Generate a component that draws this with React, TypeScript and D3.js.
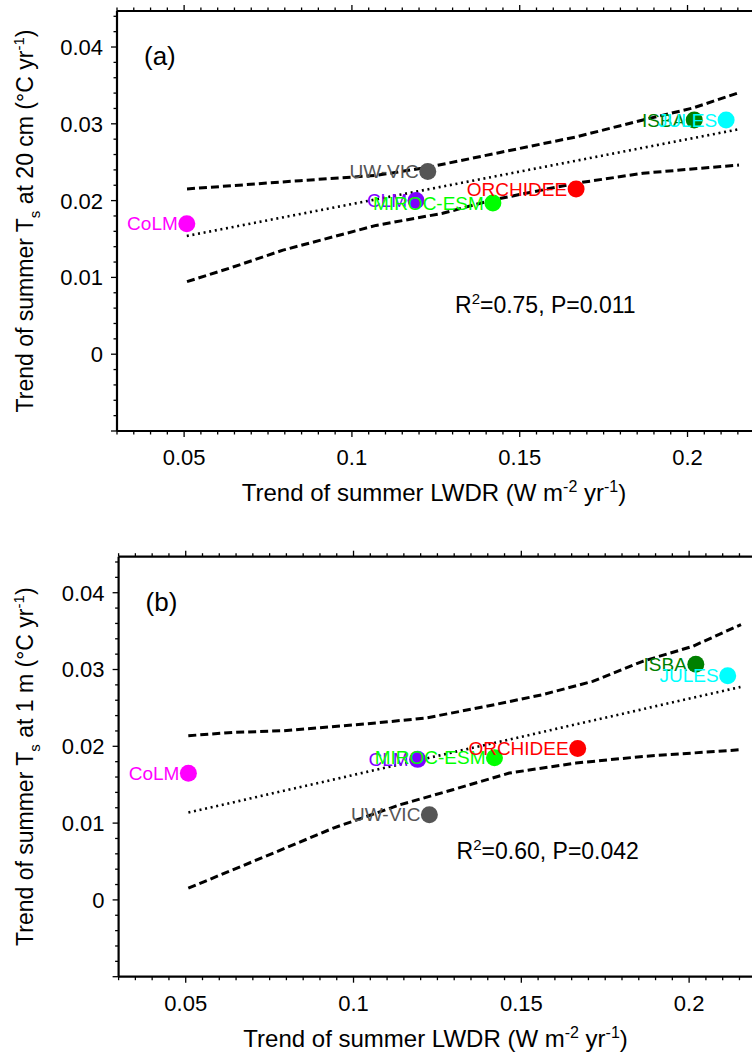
import React from "react";
import * as d3 from "d3";

// ---- data ----
const models = ["CoLM", "CLM", "UW-VIC", "MIROC-ESM", "ORCHIDEE", "ISBA", "JULES"];
const modelColors = ["#ff00ff", "#7f00ff", "#555555", "#00ff00", "#ff0000", "#008000", "#00ffff"];
const lwdrTrend = [0.0508, 0.1191, 0.1226, 0.142, 0.1668, 0.202, 0.2115];
const ts20cmTrend = [0.017, 0.02, 0.0238, 0.0197, 0.0215, 0.0305, 0.0305];
const ts1mTrend = [0.0165, 0.0183, 0.0111, 0.0185, 0.0197, 0.0307, 0.0292];

// fitted line end points
const fitX = [0.0508, 0.2153];
const fit20cmY = [0.0154, 0.02929];
const fit1mY = [0.01138, 0.02773];

// confidence band curves, panel (a)
const upper20cmX = [0.05086, 0.06457, 0.08453, 0.10717, 0.12327, 0.14412, 0.16677, 0.18673, 0.20163, 0.21534];
const upper20cmY = [0.02152, 0.02195, 0.0226, 0.02328, 0.02439, 0.02627, 0.02829, 0.0305, 0.03206, 0.03406];
const lower20cmX = [0.05086, 0.06457, 0.07946, 0.10717, 0.12705, 0.14195, 0.16677, 0.18673, 0.21534];
const lower20cmY = [0.00945, 0.01135, 0.01355, 0.01677, 0.01835, 0.02009, 0.02226, 0.02356, 0.02464];
// confidence band curves, panel (b)
const upper1mX = [0.05077, 0.06418, 0.07908, 0.1067, 0.1216, 0.13948, 0.15637, 0.17127, 0.18617, 0.20107, 0.21546];
const upper1mY = [0.02138, 0.02181, 0.02203, 0.02304, 0.02369, 0.0252, 0.02673, 0.02846, 0.03107, 0.03302, 0.03585];
const lower1mX = [0.05077, 0.0761, 0.09398, 0.11385, 0.12955, 0.14642, 0.1663, 0.18617, 0.21546];
const lower1mY = [0.00153, 0.00609, 0.00935, 0.01239, 0.01434, 0.01652, 0.01782, 0.01868, 0.01956];

const xMajorTicks = [0.05, 0.1, 0.15, 0.2];
const xTickLabels = ["0.05", "0.1", "0.15", "0.2"];
const yMajorTicks = [0, 0.01, 0.02, 0.03, 0.04];
const yTickLabels = ["0", "0.01", "0.02", "0.03", "0.04"];
const xDomain = [0.03, 0.22];
const yDomain = [-0.01, 0.04469];

const FONT = "'Liberation Sans', Arial, Helvetica, sans-serif";

type PanelProps = {
  left: number;
  top: number;
  tag: string;
  ys: number[];
  fitY: number[];
  upX: number[];
  upY: number[];
  loX: number[];
  loY: number[];
  stat: string[];
  depth: string;
};

function Panel(p: PanelProps) {
  const W = 0.19 * 3356;
  const H = 420;
  const x = d3.scaleLinear().domain(xDomain).range([p.left, p.left + W]);
  const y = d3.scaleLinear().domain(yDomain).range([p.top + H, p.top]);
  const bottom = p.top + H;
  const line = d3
    .line<[number, number]>()
    .x((d) => x(d[0]))
    .y((d) => y(d[1]));
  const upper = line(p.upX.map((v, i) => [v, p.upY[i]] as [number, number])) || "";
  const lower = line(p.loX.map((v, i) => [v, p.loY[i]] as [number, number])) || "";
  const fit = line(fitX.map((v, i) => [v, p.fitY[i]] as [number, number])) || "";

  const xMinor = d3.range(6, 45).map((k) => k * 0.005);
  const yMinor = d3.range(-5, 23).map((k) => k * 0.002);
  const isMajorX = (v: number) => xMajorTicks.some((m) => Math.abs(m - v) < 1e-9);
  const isMajorY = (v: number) => [-0.01, ...yMajorTicks].some((m) => Math.abs(m - v) < 1e-9);
  const xRight = Math.min(p.left + W, 760);
  const cx = p.left + 317;
  const cy = p.top + H / 2;

  return (
    <g>
      {/* axes lines */}
      <line x1={p.left} x2={xRight} y1={p.top} y2={p.top} stroke="#000" strokeWidth={2.2} />
      <line x1={p.left} x2={xRight} y1={bottom} y2={bottom} stroke="#000" strokeWidth={2.2} />
      <line x1={p.left} x2={p.left} y1={p.top} y2={bottom} stroke="#000" strokeWidth={2.2} />
      {xMinor.map((v, i) => {
        const L = isMajorX(v) ? 6 : 3.5;
        return (
          <g key={"xt" + i}>
            <line x1={x(v)} x2={x(v)} y1={bottom} y2={bottom + L} stroke="#000" strokeWidth={1.3} />
            <line x1={x(v)} x2={x(v)} y1={p.top} y2={p.top - L} stroke="#000" strokeWidth={1.3} />
          </g>
        );
      })}
      {yMinor.map((v, i) => {
        const L = isMajorY(v) ? 6 : 3.5;
        return <line key={"yt" + i} x1={p.left} x2={p.left - L} y1={y(v)} y2={y(v)} stroke="#000" strokeWidth={1.3} />;
      })}
      {xMajorTicks.map((v, i) => (
        <text key={"xl" + i} x={x(v)} y={bottom + 34} textAnchor="middle" fontSize={22} fontFamily={FONT}>
          {xTickLabels[i]}
        </text>
      ))}
      {yMajorTicks.map((v, i) => (
        <text key={"yl" + i} x={p.left - 14} y={y(v)} dy="0.36em" textAnchor="end" fontSize={22} fontFamily={FONT}>
          {yTickLabels[i]}
        </text>
      ))}
      {/* axis titles */}
      <text x={cx} y={bottom + 70} textAnchor="middle" fontSize={24} fontFamily={FONT}>
        Trend of summer LWDR (W m
        <tspan dy={-9} fontSize={16}>-2</tspan>
        <tspan dy={9}> yr</tspan>
        <tspan dy={-9} fontSize={16}>-1</tspan>
        <tspan dy={9}>)</tspan>
      </text>
      <text
        transform={`translate(${33},${cy}) rotate(-90)`}
        textAnchor="middle"
        fontSize={23}
        fontFamily={FONT}
      >
        Trend of summer T
        <tspan dy={7} fontSize={15}>s</tspan>
        <tspan dy={-7}>{" at " + p.depth + " (\u00B0C yr"}</tspan>
        <tspan dy={-9} fontSize={15}>-1</tspan>
        <tspan dy={9}>)</tspan>
      </text>
      <text x={p.left + 27} y={p.top + 54} fontSize={26} fontFamily={FONT}>
        {p.tag}
      </text>
      <text x={p.left + 338} y={p.top + 302} fontSize={23} fontFamily={FONT}>
        R<tspan dy={-9} fontSize={15}>2</tspan>
        <tspan dy={9}>{p.stat[0]}</tspan>
      </text>
      {/* regression and confidence bands */}
      <path d={upper} fill="none" stroke="#000" strokeWidth={3} strokeDasharray="8,4" />
      <path d={lower} fill="none" stroke="#000" strokeWidth={3} strokeDasharray="8,4" />
      <path d={fit} fill="none" stroke="#000" strokeWidth={2.6} strokeDasharray="2,3.7" />
      {/* model points */}
      {models.map((m, i) => (
        <g key={m}>
          <text
            x={x(lwdrTrend[i]) - 9}
            y={y(p.ys[i])}
            dy="0.35em"
            textAnchor="end"
            fontSize={19}
            fontFamily={FONT}
            fill={modelColors[i]}
          >
            {m}
          </text>
          <circle cx={x(lwdrTrend[i])} cy={y(p.ys[i])} r={8.5} fill={modelColors[i]} />
        </g>
      ))}
    </g>
  );
}

export default function App() {
  return (
    <svg
      width={752}
      height={1053}
      style={{ position: "absolute", left: 0, top: 0, display: "block", background: "#fff" }}
    >
      <rect width={752} height={1053} fill="#fff" />
      <Panel
        left={117}
        top={11}
        tag="(a)"
        ys={ts20cmTrend}
        fitY={fit20cmY}
        upX={upper20cmX}
        upY={upper20cmY}
        loX={lower20cmX}
        loY={lower20cmY}
        stat={["=0.75, P=0.011"]}
        depth="20 cm"
      />
      <Panel
        left={118.6}
        top={556.7}
        tag="(b)"
        ys={ts1mTrend}
        fitY={fit1mY}
        upX={upper1mX}
        upY={upper1mY}
        loX={lower1mX}
        loY={lower1mY}
        stat={["=0.60, P=0.042"]}
        depth="1 m"
      />
    </svg>
  );
}
